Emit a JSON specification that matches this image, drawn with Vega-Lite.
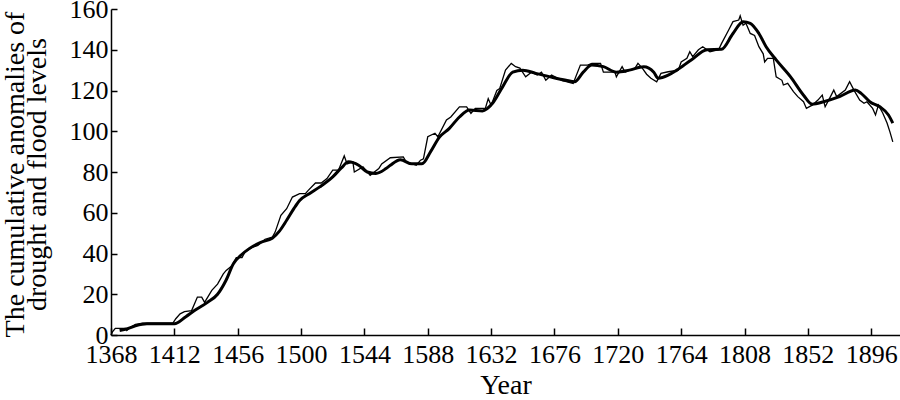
{
  "$schema": "https://vega.github.io/schema/vega-lite/v6.json",
  "width": 789,
  "height": 326,
  "autosize": {"type": "none"},
  "padding": {"left": 111, "top": 9, "right": 0, "bottom": 65},
  "background": "white",
  "config": {
    "view": {"stroke": null},
    "font": "Liberation Serif",
    "axis": {
      "labelFont": "Liberation Serif",
      "titleFont": "Liberation Serif",
      "labelColor": "black",
      "titleColor": "black",
      "domainColor": "black",
      "tickColor": "black",
      "domainWidth": 1.5,
      "tickWidth": 1.5,
      "grid": false,
      "labelFontSize": 26,
      "titleFontSize": 28,
      "titleFontWeight": "normal"
    }
  },
  "datasets": {
    "raw": [
      {"year": 1368, "value": 0}, {"year": 1369, "value": 1.5}, {"year": 1371, "value": 3.3},
      {"year": 1378, "value": 3.3}, {"year": 1379, "value": 2.2}, {"year": 1382, "value": 4},
      {"year": 1385, "value": 5.2}, {"year": 1390, "value": 5.8}, {"year": 1411, "value": 5.8},
      {"year": 1413, "value": 8}, {"year": 1416, "value": 10.4}, {"year": 1419, "value": 11.5},
      {"year": 1424, "value": 12}, {"year": 1428, "value": 18.6}, {"year": 1431, "value": 18.6},
      {"year": 1433, "value": 16}, {"year": 1438, "value": 21.9}, {"year": 1442, "value": 25},
      {"year": 1446, "value": 30}, {"year": 1448, "value": 31.7}, {"year": 1452, "value": 34},
      {"year": 1455, "value": 38}, {"year": 1459, "value": 38}, {"year": 1461, "value": 40.7},
      {"year": 1466, "value": 43}, {"year": 1470, "value": 44}, {"year": 1475, "value": 47},
      {"year": 1480, "value": 48}, {"year": 1482, "value": 50.5}, {"year": 1486, "value": 58.7},
      {"year": 1490, "value": 62}, {"year": 1494, "value": 67.7}, {"year": 1499, "value": 69.4},
      {"year": 1503, "value": 69.4}, {"year": 1505, "value": 71}, {"year": 1510, "value": 74.6},
      {"year": 1514, "value": 74.6}, {"year": 1518, "value": 76.8}, {"year": 1522, "value": 80.9},
      {"year": 1526, "value": 80.9}, {"year": 1530, "value": 87.9}, {"year": 1532, "value": 84},
      {"year": 1536, "value": 85}, {"year": 1537, "value": 80}, {"year": 1543, "value": 82.5},
      {"year": 1548, "value": 78.4}, {"year": 1554, "value": 81.7}, {"year": 1556, "value": 84},
      {"year": 1562, "value": 87}, {"year": 1571, "value": 87.4}, {"year": 1573, "value": 85},
      {"year": 1580, "value": 83.3}, {"year": 1583, "value": 85.8}, {"year": 1585, "value": 86.5},
      {"year": 1588, "value": 97.3}, {"year": 1593, "value": 99}, {"year": 1595, "value": 97.3},
      {"year": 1601, "value": 105.5}, {"year": 1604, "value": 107}, {"year": 1610, "value": 112},
      {"year": 1615, "value": 112}, {"year": 1618, "value": 108.8}, {"year": 1621, "value": 111.2},
      {"year": 1628, "value": 111.2}, {"year": 1630, "value": 116}, {"year": 1632, "value": 112.8},
      {"year": 1636, "value": 120}, {"year": 1638, "value": 121}, {"year": 1642, "value": 130},
      {"year": 1646, "value": 133.3}, {"year": 1649, "value": 131.7}, {"year": 1652, "value": 131},
      {"year": 1656, "value": 126.7}, {"year": 1660, "value": 129}, {"year": 1664, "value": 127.6},
      {"year": 1667, "value": 129}, {"year": 1670, "value": 125}, {"year": 1674, "value": 127.6},
      {"year": 1681, "value": 125}, {"year": 1689, "value": 123.5}, {"year": 1694, "value": 132.5},
      {"year": 1699, "value": 132.5}, {"year": 1702, "value": 133.3}, {"year": 1708, "value": 133.3},
      {"year": 1710, "value": 129}, {"year": 1718, "value": 129}, {"year": 1719, "value": 126.7},
      {"year": 1723, "value": 131.7}, {"year": 1725, "value": 129}, {"year": 1732, "value": 131},
      {"year": 1734, "value": 133.3}, {"year": 1737, "value": 131}, {"year": 1740, "value": 128},
      {"year": 1743, "value": 126}, {"year": 1747, "value": 124.3}, {"year": 1750, "value": 128.4},
      {"year": 1755, "value": 129.2}, {"year": 1762, "value": 130}, {"year": 1764, "value": 134},
      {"year": 1768, "value": 135.8}, {"year": 1770, "value": 139}, {"year": 1772, "value": 136.6},
      {"year": 1776, "value": 140}, {"year": 1779, "value": 141.5}, {"year": 1784, "value": 139},
      {"year": 1790, "value": 140}, {"year": 1792, "value": 143}, {"year": 1797, "value": 149.7},
      {"year": 1800, "value": 153.8}, {"year": 1804, "value": 154.6}, {"year": 1805, "value": 156.6},
      {"year": 1807, "value": 152}, {"year": 1809, "value": 153}, {"year": 1812, "value": 148},
      {"year": 1815, "value": 147}, {"year": 1818, "value": 141.5}, {"year": 1821, "value": 138},
      {"year": 1822, "value": 134}, {"year": 1824, "value": 135.8}, {"year": 1828, "value": 135.8},
      {"year": 1830, "value": 126.7}, {"year": 1834, "value": 125}, {"year": 1835, "value": 122.7},
      {"year": 1838, "value": 123.5}, {"year": 1842, "value": 119.4}, {"year": 1845, "value": 117},
      {"year": 1849, "value": 114.5}, {"year": 1851, "value": 111.2}, {"year": 1855, "value": 112.8},
      {"year": 1859, "value": 115.3}, {"year": 1862, "value": 117.7}, {"year": 1864, "value": 112},
      {"year": 1867, "value": 116}, {"year": 1870, "value": 120.2}, {"year": 1872, "value": 117},
      {"year": 1878, "value": 120.2}, {"year": 1881, "value": 124.3}, {"year": 1884, "value": 120.2},
      {"year": 1888, "value": 115.3}, {"year": 1891, "value": 113.7}, {"year": 1893, "value": 114.5},
      {"year": 1897, "value": 111.2}, {"year": 1899, "value": 108}, {"year": 1901, "value": 112.8},
      {"year": 1904, "value": 109}, {"year": 1907, "value": 104}, {"year": 1909, "value": 99.7},
      {"year": 1911, "value": 94.8}
    ],
    "smooth": [
      {"year": 1374, "value": 2.2}, {"year": 1378, "value": 2.8}, {"year": 1385, "value": 4.5},
      {"year": 1393, "value": 5.5}, {"year": 1412, "value": 5.5}, {"year": 1420, "value": 9},
      {"year": 1426, "value": 12}, {"year": 1435, "value": 16}, {"year": 1442, "value": 20},
      {"year": 1448, "value": 27}, {"year": 1453, "value": 35}, {"year": 1458, "value": 39},
      {"year": 1464, "value": 42.4}, {"year": 1472, "value": 45.5}, {"year": 1480, "value": 47.5},
      {"year": 1485, "value": 51}, {"year": 1490, "value": 56.3}, {"year": 1495, "value": 62},
      {"year": 1499, "value": 66}, {"year": 1506, "value": 69.5}, {"year": 1513, "value": 72.7},
      {"year": 1522, "value": 77.6}, {"year": 1528, "value": 82}, {"year": 1533, "value": 85},
      {"year": 1540, "value": 83.3}, {"year": 1546, "value": 80}, {"year": 1552, "value": 79.3},
      {"year": 1559, "value": 81.7}, {"year": 1562, "value": 83.3}, {"year": 1569, "value": 86},
      {"year": 1577, "value": 84}, {"year": 1584, "value": 84}, {"year": 1590, "value": 90},
      {"year": 1596, "value": 97}, {"year": 1603, "value": 101.4}, {"year": 1610, "value": 107},
      {"year": 1617, "value": 110.4}, {"year": 1626, "value": 110}, {"year": 1633, "value": 113.7},
      {"year": 1640, "value": 121.8}, {"year": 1647, "value": 129}, {"year": 1654, "value": 130},
      {"year": 1663, "value": 128.4}, {"year": 1673, "value": 126.7}, {"year": 1684, "value": 125},
      {"year": 1690, "value": 124.3}, {"year": 1696, "value": 129}, {"year": 1702, "value": 132.5},
      {"year": 1710, "value": 131.7}, {"year": 1719, "value": 129}, {"year": 1728, "value": 130},
      {"year": 1738, "value": 131.7}, {"year": 1745, "value": 129}, {"year": 1748, "value": 126},
      {"year": 1755, "value": 127.5}, {"year": 1761, "value": 130}, {"year": 1771, "value": 135},
      {"year": 1782, "value": 140}, {"year": 1792, "value": 140.2}, {"year": 1800, "value": 148},
      {"year": 1807, "value": 153.8}, {"year": 1812, "value": 153}, {"year": 1818, "value": 148},
      {"year": 1823, "value": 141.5}, {"year": 1830, "value": 135}, {"year": 1840, "value": 126.7},
      {"year": 1849, "value": 117.7}, {"year": 1855, "value": 113.3}, {"year": 1863, "value": 114.5},
      {"year": 1874, "value": 117}, {"year": 1885, "value": 120.2}, {"year": 1889, "value": 118.6},
      {"year": 1895, "value": 114.5}, {"year": 1902, "value": 112}, {"year": 1908, "value": 108},
      {"year": 1911, "value": 104}
    ]
  },
  "encoding": {
    "x": {
      "field": "year", "type": "quantitative",
      "scale": {"domain": [1368, 1916], "nice": false, "zero": false},
      "axis": {
        "title": "Year",
        "values": [1368, 1412, 1456, 1500, 1544, 1588, 1632, 1676, 1720, 1764, 1808, 1852, 1896],
        "format": "d",
        "tickSize": -7,
        "labelBaseline": "alphabetic",
        "labelPadding": 34,
        "labelFlush": false,
        "labelOverlap": false,
        "titleBaseline": "alphabetic",
        "titleY": 58
      }
    },
    "y": {
      "field": "value", "type": "quantitative",
      "scale": {"domain": [0, 160], "nice": false},
      "axis": {
        "title": ["The cumulative anomalies of", "drought and flood levels"],
        "values": [0, 20, 40, 60, 80, 100, 120, 140, 160],
        "tickSize": -6,
        "labelPadding": 9,
        "labelFlush": false,
        "labelOverlap": false,
        "titleAngle": -90,
        "titleAlign": "center",
        "titleBaseline": "top",
        "titleX": -110,
        "titleY": 165,
        "titleLineHeight": 22
      }
    }
  },
  "layer": [
    {
      "data": {"name": "raw"},
      "mark": {"type": "line", "color": "black", "strokeWidth": 1.3},
      "encoding": {}
    },
    {
      "data": {"name": "smooth"},
      "mark": {"type": "line", "color": "black", "strokeWidth": 3, "interpolate": "monotone"},
      "encoding": {}
    }
  ]
}
